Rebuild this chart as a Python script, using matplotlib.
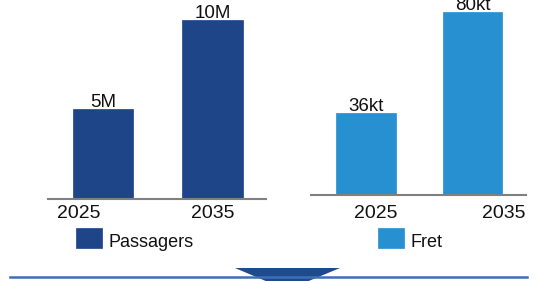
import matplotlib
matplotlib.use("Agg")
import matplotlib.pyplot as plt
from matplotlib.patches import Polygon, Rectangle

plt.rcParams["font.family"] = ["Liberation Sans", "DejaVu Sans"]

years = ["2025", "2035"]
passagers = [5, 10]
passagers_labels = ["5M", "10M"]
fret = [36, 80]
fret_labels = ["36kt", "80kt"]

W, H = 536, 281
fig = plt.figure(figsize=(W / 100, H / 100), dpi=100)


def px_axes(x0, x1, base):
    # axes from pixel x0..x1, from baseline (pixel y from top) up to figure top
    return fig.add_axes([x0 / W, (H - base) / H, (x1 - x0) / W, base / H])


def panel(ax, values, labels, color, top_px, base_px, spacing, left_px, right_px,
          width, tick_shift, pad, name, leg_x):
    x = list(range(len(values)))
    ax.bar(x, values, width=width, color=color, edgecolor=color, linewidth=0.5)
    scale = max(values) / (base_px - top_px)
    ax.set_ylim(0, base_px * scale)
    ax.set_xlim(-left_px / spacing, right_px / spacing)
    for xi, v, lab in zip(x, values, labels):
        ax.annotate(lab, (xi, v), xytext=(0, 1.5), textcoords="offset points",
                    ha="center", va="baseline", fontsize=13.5, color="#111111",
                    annotation_clip=False)
    ax.set_xticks([xi + s for xi, s in zip(x, tick_shift)])
    ax.set_xticklabels(years, fontsize=14, color="#111111")
    ax.tick_params(axis="x", length=0, pad=pad)
    ax.set_yticks([])
    for s in ["top", "right", "left"]:
        ax.spines[s].set_visible(False)
    ax.spines["bottom"].set_color("#808080")
    ax.spines["bottom"].set_linewidth(1.5)
    ax.patch.set_alpha(0)
    fig.patches.append(Rectangle((leg_x / W, (H - 248) / H), 26 / W, 20 / H,
                                 transform=fig.transFigure, facecolor=color,
                                 edgecolor=color, linewidth=0.5))
    fig.text((leg_x + 32) / W, (H - 247) / H, name, fontsize=13,
             color="#111111", va="baseline")


ax1 = px_axes(48, 266, 199)
panel(ax1, passagers, passagers_labels, "#1f4589", 20, 199, 109.5, 55, 163,
      0.557, [-0.22, 0.005], 4, "Passagers", 76)

ax2 = px_axes(311, 526, 195)
panel(ax2, fret, fret_labels, "#2690d0", 12, 195, 106.5, 55, 160,
      0.56, [0.094, 0.296], 7, "Fret", 378)

# bottom line and arrow
fig.add_artist(plt.Line2D([10 / W, 527 / W], [(H - 277) / H] * 2,
                          color="#3d6fb6", linewidth=1.8,
                          transform=fig.transFigure))
fig.patches.append(Polygon([(235 / W, (H - 268) / H), (340 / W, (H - 268) / H),
                            (287 / W, (H - 290) / H)], closed=True,
                           transform=fig.transFigure, facecolor="#1f4a8c",
                           edgecolor="none"))

fig.savefig("out.png", dpi=100)
